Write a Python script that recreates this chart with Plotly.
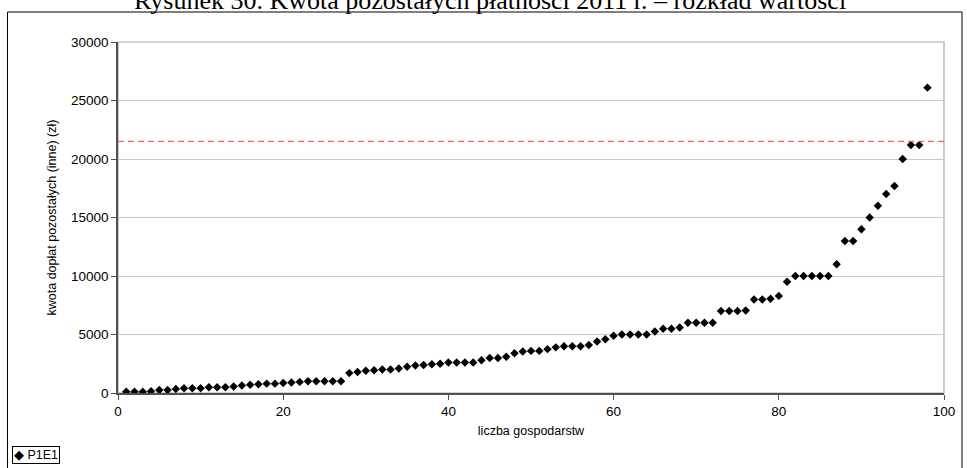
import plotly.graph_objects as go

households = list(range(1, 99))
amounts = [
    100, 100, 100, 150, 250, 250, 350, 400, 400, 400,
    500, 500, 500, 550, 650, 700, 750, 800, 800, 850,
    900, 950, 1000, 1000, 1000, 1000, 1000, 1700, 1800, 1900,
    1950, 2000, 2000, 2100, 2250, 2350, 2400, 2450, 2500, 2600,
    2600, 2600, 2600, 2800, 3000, 3000, 3100, 3400, 3550, 3600,
    3600, 3750, 3900, 4000, 4000, 4000, 4100, 4400, 4600, 4900,
    5000, 5000, 5000, 5000, 5250, 5500, 5500, 5600, 6000, 6000,
    6000, 6000, 7000, 7000, 7000, 7050, 8000, 8000, 8050, 8300,
    9500, 10000, 10000, 10000, 10000, 10000, 11000, 13000, 13000, 14000,
    15000, 16000, 17000, 17700, 20000, 21200, 21200, 26100,
]
threshold = 21500
series_name = "P1E1"
title_text = "Rysunek 30. Kwota pozostałych płatności 2011 r. – rozkład wartości"
x_title = "liczba gospodarstw"
y_title = "kwota dopłat pozostałych (inne) (zł)"
x_ticks = [0, 20, 40, 60, 80, 100]
y_ticks = [0, 5000, 10000, 15000, 20000, 25000, 30000]

W, H = 967, 468
L, R, T, B = 118, 23, 42, 75
pw, ph = W - L - R, H - T - B

def px_x(px):
    return (px - L) / pw

def px_y(py):
    return (H - B - py) / ph

fig = go.Figure()
fig.add_trace(go.Scatter(
    x=households, y=amounts, mode="markers", name=series_name,
    marker=dict(symbol="diamond", size=6.5, color="black"),
    showlegend=False,
))

tick_font = dict(family="Liberation Sans, Arial", size=13.5, color="black")
title_font = dict(family="Liberation Sans, Arial", size=12.5, color="black")
fig.update_layout(
    width=W, height=H,
    margin=dict(l=L, r=R, t=T, b=B, pad=0),
    paper_bgcolor="white", plot_bgcolor="white",
    xaxis=dict(range=[0, 100], tickvals=x_ticks, showgrid=False, zeroline=False,
               showline=True, linecolor="#505050", linewidth=1.5,
               ticks="outside", ticklen=5, tickcolor="#505050",
               tickfont=tick_font,
               title=dict(text=x_title, font=title_font, standoff=8)),
    yaxis=dict(range=[0, 30000], tickvals=y_ticks, tickformat="d", showgrid=True,
               gridcolor="#c8c8c8", gridwidth=1, zeroline=False,
               showline=True, linecolor="#505050", linewidth=1.5,
               ticks="outside", ticklen=5, tickcolor="#505050",
               tickfont=tick_font,
               title=dict(text=y_title, font=title_font, standoff=12)),
    showlegend=False,
)

# plot-area border (gray) on top/right
fig.add_shape(type="rect", xref="paper", yref="paper", x0=0, x1=1, y0=0, y1=1,
              line=dict(color="#a8a8a8", width=1.2), layer="below")
# outer chart border
fig.add_shape(type="rect", xref="paper", yref="paper",
              x0=px_x(7.5), x1=px_x(962), y0=px_y(480), y1=px_y(12),
              line=dict(color="black", width=1))
# threshold line
fig.add_shape(type="line", xref="paper", yref="y", x0=0, x1=1,
              y0=threshold, y1=threshold, layer="above",
              line=dict(color="#ff5a5a", width=1.2, dash="6px,4px"))

# title (cut off at top, as in reference)
fig.add_annotation(text=title_text, xref="paper", yref="paper",
                   x=px_x(490), y=px_y(17), xanchor="center", yanchor="bottom",
                   showarrow=False,
                   font=dict(family="Liberation Serif, Times New Roman", size=26, color="black"))

# legend box
fig.add_annotation(text="◆ " + series_name, xref="paper", yref="paper",
                   x=px_x(12), y=px_y(446), xanchor="left", yanchor="top",
                   showarrow=False, bordercolor="black", borderwidth=1,
                   borderpad=1, bgcolor="white",
                   font=dict(family="Liberation Sans, Arial", size=12.5, color="black"))

fig.write_html("out.html",
               config={"displayModeBar": False},
               post_script="document.body.style.margin='0';document.body.style.overflow='hidden';")
